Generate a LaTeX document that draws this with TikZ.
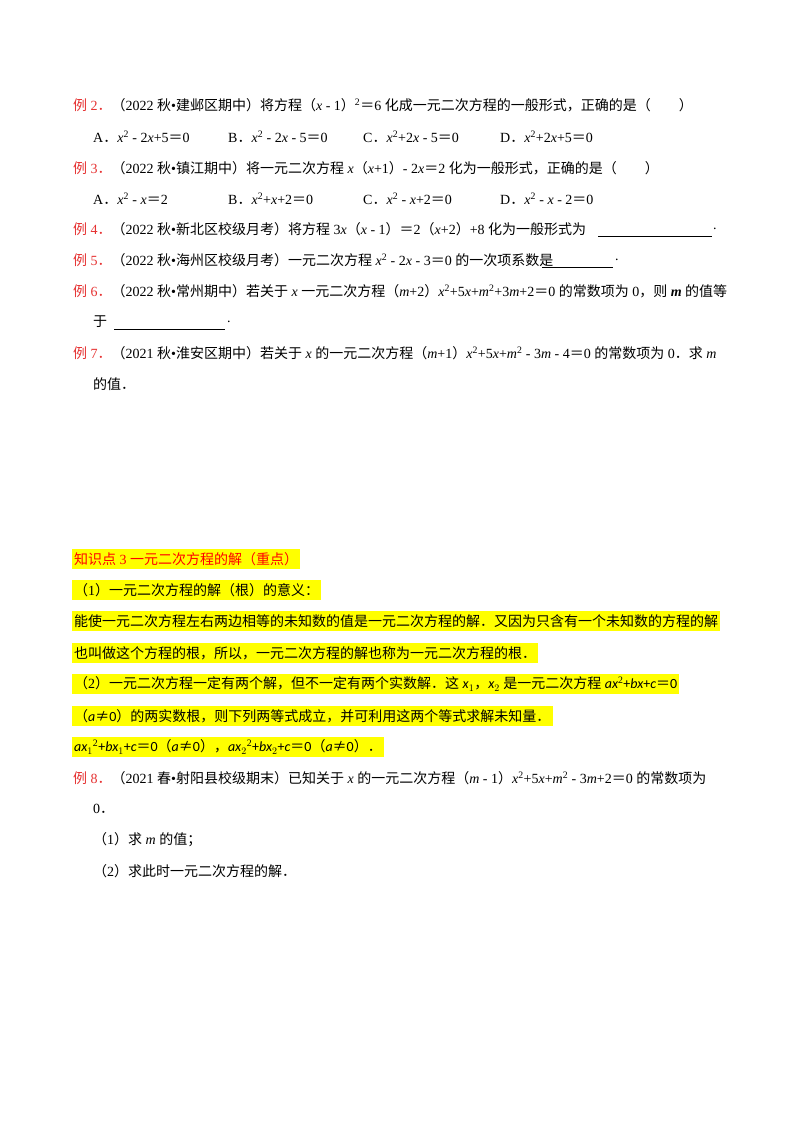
\documentclass[tikz,border=0pt]{standalone}
\usepackage{fontspec}
\setmainfont{Liberation Serif}
\newfontfamily\cjk{Noto Sans CJK SC}
\newfontfamily\calfont{Carlito}
\XeTeXinterchartokenstate=1
\newXeTeXintercharclass\cjkclass
\newcount\cc
\cc="4E00 \loop\XeTeXcharclass\cc=\cjkclass\advance\cc 1 \ifnum\cc<"A000\repeat
\cc="3000 \loop\XeTeXcharclass\cc=\cjkclass\advance\cc 1 \ifnum\cc<"3040\repeat
\cc="FF00 \loop\XeTeXcharclass\cc=\cjkclass\advance\cc 1 \ifnum\cc<"FFF0\repeat
\XeTeXcharclass"2260=\cjkclass
\XeTeXinterchartoks 0 \cjkclass={\begingroup\cjk}
\XeTeXinterchartoks 4095 \cjkclass={\begingroup\cjk}
\XeTeXinterchartoks \cjkclass 0={\endgroup}
\XeTeXinterchartoks \cjkclass 4095={\endgroup}
\definecolor{lr}{RGB}{230,50,50}
\definecolor{hl}{RGB}{255,255,0}
\newcommand{\vv}[1]{\textit{#1}}
\newcommand{\sq}{\textsuperscript{2}}
\newcommand{\cv}[1]{{\calfont\itshape #1}}
\newcommand{\li}[1]{{\color{lr}例 #1．}}
\begin{document}
\begin{tikzpicture}[x=1pt,y=-1pt,
  tx/.style={anchor=west,inner sep=0pt,font=\fontsize{14}{16}\selectfont},
  hx/.style={tx,fill=hl,inner xsep=2pt,inner ysep=3pt},
  blank/.style={line width=0.7pt}]
\useasboundingbox[fill=white] (0,0) rectangle (800,1132);
\node[tx] (l1) at (73,105) {\li{2}（2022 秋•建邺区期中）将方程（\vv{x} - 1）\sq＝6 化成一元二次方程的一般形式，正确的是（\quad\quad ）};
\node[tx] (a1) at (93,137) {A．\vv{x}\sq\ - 2\vv{x}+5＝0};
\node[tx] (b1) at (228,137) {B．\vv{x}\sq\ - 2\vv{x} - 5＝0};
\node[tx] (c1) at (363,137) {C．\vv{x}\sq+2\vv{x} - 5＝0};
\node[tx] (d1) at (500,137) {D．\vv{x}\sq+2\vv{x}+5＝0};
\node[tx] (l2) at (73,168) {\li{3}（2022 秋•镇江期中）将一元二次方程 \vv{x}（\vv{x}+1）- 2\vv{x}＝2 化为一般形式，正确的是（\quad\quad ）};
\node[tx] (a2) at (93,199) {A．\vv{x}\sq\ - \vv{x}＝2};
\node[tx] (b2) at (228,199) {B．\vv{x}\sq+\vv{x}+2＝0};
\node[tx] (c2) at (363,199) {C．\vv{x}\sq\ - \vv{x}+2＝0};
\node[tx] (d2) at (500,199) {D．\vv{x}\sq\ - \vv{x} - 2＝0};
\node[tx] (l3) at (73,229) {\li{4}（2022 秋•新北区校级月考）将方程 3\vv{x}（\vv{x} - 1）＝2（\vv{x}+2）+8 化为一般形式为};
\coordinate (u1a) at (598,236); \coordinate (u1b) at (712,236);
\draw[blank] (u1a) -- (u1b);
\node[tx] (p1) at (713,229) {.};
\node[tx] (l4) at (73,260) {\li{5}（2022 秋•海州区校级月考）一元二次方程 \vv{x}\sq\ - 2\vv{x} - 3＝0 的一次项系数是};
\coordinate (u2a) at (542,267); \coordinate (u2b) at (613,267);
\draw[blank] (u2a) -- (u2b);
\node[tx] (p2) at (615,260) {.};
\node[tx] (l5) at (73,291) {\li{6}（2022 秋•常州期中）若关于 \vv{x} 一元二次方程（\vv{m}+2）\vv{x}\sq+5\vv{x}+\vv{m}\sq+3\vv{m}+2＝0 的常数项为 0，则 \textbf{\vv{m}} 的值等};
\node[tx] (l5b) at (93,322) {于};
\coordinate (u3a) at (114,329); \coordinate (u3b) at (225,329);
\draw[blank] (u3a) -- (u3b);
\node[tx] (p3) at (227,322) {.};
\node[tx] (l6) at (73,353) {\li{7}（2021 秋•淮安区期中）若关于 \vv{x} 的一元二次方程（\vv{m}+1）\vv{x}\sq+5\vv{x}+\vv{m}\sq\ - 3\vv{m} - 4＝0 的常数项为 0．求 \vv{m}};
\node[tx] (l6b) at (93,384) {的值．};
\node[hx] (h0) at (72,559) {\color{red}知识点 3 一元二次方程的解（重点）};
\node[hx] (h1) at (72,590) {（1）一元二次方程的解（根）的意义：};
\node[hx] (h2) at (72,621) {能使一元二次方程左右两边相等的未知数的值是一元二次方程的解．又因为只含有一个未知数的方程的解};
\node[hx] (h3) at (72,653) {也叫做这个方程的根，所以，一元二次方程的解也称为一元二次方程的根．};
\node[hx] (h4) at (72,684) {（2）一元二次方程一定有两个解，但不一定有两个实数解．这 \cv{x}$_1$，\cv{x}$_2$ 是一元二次方程 \cv{ax}\sq{\calfont +}\cv{bx}{\calfont +}\cv{c}＝{\calfont 0}};
\node[hx] (h5) at (72,716) {（\cv{a}≠{\calfont 0}）的两实数根，则下列两等式成立，并可利用这两个等式求解未知量．};
\node[hx] (h6) at (72,747) {\cv{ax}$_1$\sq{\calfont +}\cv{bx}$_1${\calfont +}\cv{c}＝{\calfont 0}（\cv{a}≠{\calfont 0}），\cv{ax}$_2$\sq{\calfont +}\cv{bx}$_2${\calfont +}\cv{c}＝{\calfont 0}（\cv{a}≠{\calfont 0}）．};
\node[tx] (l7) at (73,778) {\li{8}（2021 春•射阳县校级期末）已知关于 \vv{x} 的一元二次方程（\vv{m} - 1）\vv{x}\sq+5\vv{x}+\vv{m}\sq\ - 3\vv{m}+2＝0 的常数项为};
\node[tx] (l7b) at (93,809) {0．};
\node[tx] (q1) at (93,840) {（1）求 \vv{m} 的值；};
\node[tx] (q2) at (93,871) {（2）求此时一元二次方程的解．};
\end{tikzpicture}
\end{document}
